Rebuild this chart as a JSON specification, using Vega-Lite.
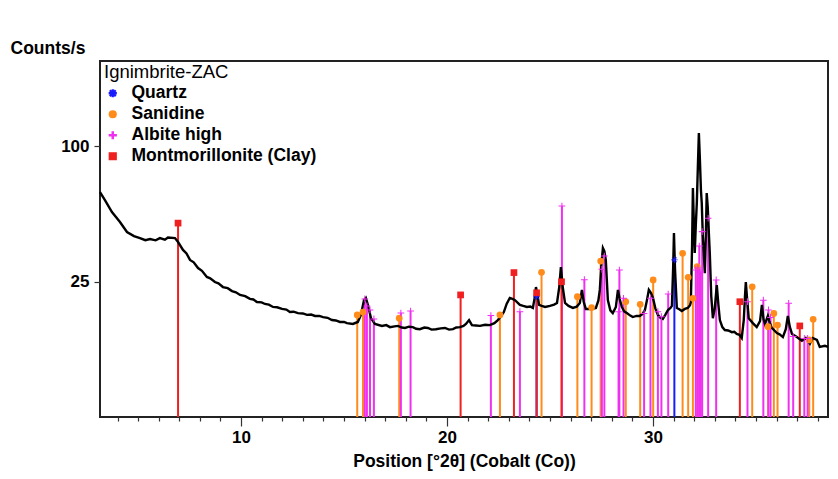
{
  "$schema": "https://vega.github.io/schema/vega-lite/v6.json",
  "width": 728,
  "height": 356,
  "autosize": "none",
  "padding": {"left": 100, "top": 61, "right": 10, "bottom": 62},
  "background": "white",
  "config": {
    "view": {"stroke": "#222222", "strokeWidth": 2},
    "font": "Liberation Sans"
  },
  "datasets": {
    "pattern": [
      {"pos": 3.15, "counts": 68.9}, {"pos": 3.39, "counts": 64.1}, {"pos": 3.73, "counts": 57.2}, {"pos": 4.12, "counts": 51.8},
      {"pos": 4.46, "counts": 46.6}, {"pos": 4.8, "counts": 44.6}, {"pos": 5.09, "counts": 43.6}, {"pos": 5.35, "counts": 42.6},
      {"pos": 5.58, "counts": 43.1}, {"pos": 5.85, "counts": 42.5}, {"pos": 6.06, "counts": 43.6}, {"pos": 6.3, "counts": 42.8},
      {"pos": 6.45, "counts": 43.9}, {"pos": 6.79, "counts": 43.6}, {"pos": 6.94, "counts": 41.7}, {"pos": 7.18, "counts": 38.0},
      {"pos": 7.35, "counts": 36.4}, {"pos": 7.52, "counts": 33.6}, {"pos": 7.7, "counts": 32.6}, {"pos": 7.91, "counts": 30.2},
      {"pos": 8.1, "counts": 29.1}, {"pos": 8.34, "counts": 26.7}, {"pos": 8.5, "counts": 26.2}, {"pos": 8.73, "counts": 24.8},
      {"pos": 8.9, "counts": 24.3}, {"pos": 9.12, "counts": 23.0}, {"pos": 9.35, "counts": 22.6}, {"pos": 9.56, "counts": 21.6},
      {"pos": 9.75, "counts": 21.2}, {"pos": 9.95, "counts": 20.3}, {"pos": 10.2, "counts": 19.9}, {"pos": 10.43, "counts": 19.0},
      {"pos": 10.6, "counts": 18.8}, {"pos": 10.77, "counts": 18.0}, {"pos": 11.0, "counts": 17.9}, {"pos": 11.16, "counts": 17.4},
      {"pos": 11.35, "counts": 17.2}, {"pos": 11.55, "counts": 16.5}, {"pos": 11.75, "counts": 16.4}, {"pos": 11.99, "counts": 15.9},
      {"pos": 12.2, "counts": 15.7}, {"pos": 12.37, "counts": 15.0}, {"pos": 12.55, "counts": 15.1}, {"pos": 12.76, "counts": 14.7},
      {"pos": 13.0, "counts": 14.6}, {"pos": 13.2, "counts": 14.2}, {"pos": 13.4, "counts": 14.3}, {"pos": 13.59, "counts": 13.9},
      {"pos": 13.8, "counts": 13.9}, {"pos": 13.98, "counts": 13.6}, {"pos": 14.2, "counts": 13.4}, {"pos": 14.41, "counts": 12.8},
      {"pos": 14.6, "counts": 12.7}, {"pos": 14.8, "counts": 12.3}, {"pos": 15.0, "counts": 12.3}, {"pos": 15.14, "counts": 12.0},
      {"pos": 15.43, "counts": 11.8}, {"pos": 15.67, "counts": 12.3}, {"pos": 15.82, "counts": 14.2}, {"pos": 15.97, "counts": 18.6},
      {"pos": 16.06, "counts": 19.3}, {"pos": 16.16, "counts": 17.1}, {"pos": 16.31, "counts": 13.3}, {"pos": 16.5, "counts": 11.8},
      {"pos": 16.84, "counts": 11.3}, {"pos": 17.05, "counts": 11.5}, {"pos": 17.23, "counts": 11.0}, {"pos": 17.45, "counts": 11.2},
      {"pos": 17.62, "counts": 11.3}, {"pos": 17.8, "counts": 10.9}, {"pos": 17.96, "counts": 10.8}, {"pos": 18.15, "counts": 11.1},
      {"pos": 18.34, "counts": 11.0}, {"pos": 18.5, "counts": 10.6}, {"pos": 18.68, "counts": 10.5}, {"pos": 18.9, "counts": 10.9},
      {"pos": 19.07, "counts": 10.8}, {"pos": 19.25, "counts": 10.4}, {"pos": 19.46, "counts": 10.5}, {"pos": 19.7, "counts": 10.7},
      {"pos": 19.9, "counts": 10.8}, {"pos": 20.1, "counts": 10.4}, {"pos": 20.29, "counts": 10.5}, {"pos": 20.45, "counts": 10.9},
      {"pos": 20.63, "counts": 11.0}, {"pos": 20.8, "counts": 11.3}, {"pos": 20.92, "counts": 11.8}, {"pos": 21.07, "counts": 12.8},
      {"pos": 21.21, "counts": 11.5}, {"pos": 21.4, "counts": 11.4}, {"pos": 21.6, "counts": 11.3}, {"pos": 21.85, "counts": 11.6},
      {"pos": 22.08, "counts": 11.5}, {"pos": 22.3, "counts": 12.0}, {"pos": 22.47, "counts": 12.8}, {"pos": 22.62, "counts": 13.8},
      {"pos": 22.76, "counts": 15.0}, {"pos": 22.9, "counts": 17.5}, {"pos": 23.05, "counts": 19.3}, {"pos": 23.18, "counts": 19.0},
      {"pos": 23.3, "counts": 18.6}, {"pos": 23.54, "counts": 17.1}, {"pos": 23.7, "counts": 16.8}, {"pos": 23.88, "counts": 16.5},
      {"pos": 24.05, "counts": 16.6}, {"pos": 24.17, "counts": 16.2}, {"pos": 24.26, "counts": 19.5}, {"pos": 24.32, "counts": 23.0},
      {"pos": 24.4, "counts": 20.0}, {"pos": 24.47, "counts": 17.1}, {"pos": 24.6, "counts": 16.8}, {"pos": 24.76, "counts": 16.5},
      {"pos": 25.0, "counts": 16.8}, {"pos": 25.2, "counts": 17.2}, {"pos": 25.34, "counts": 17.7}, {"pos": 25.45, "counts": 23.0},
      {"pos": 25.53, "counts": 30.6}, {"pos": 25.62, "counts": 23.0}, {"pos": 25.73, "counts": 17.7}, {"pos": 25.9, "counts": 16.8},
      {"pos": 26.11, "counts": 16.2}, {"pos": 26.3, "counts": 16.6}, {"pos": 26.45, "counts": 17.7}, {"pos": 26.55, "counts": 22.0},
      {"pos": 26.64, "counts": 18.0}, {"pos": 26.74, "counts": 15.9}, {"pos": 27.0, "counts": 15.9}, {"pos": 27.23, "counts": 16.2},
      {"pos": 27.35, "counts": 18.5}, {"pos": 27.42, "counts": 22.0}, {"pos": 27.5, "counts": 32.0}, {"pos": 27.57, "counts": 38.9},
      {"pos": 27.64, "counts": 37.5}, {"pos": 27.71, "counts": 33.6}, {"pos": 27.81, "counts": 18.6}, {"pos": 27.93, "counts": 15.5},
      {"pos": 28.05, "counts": 14.7}, {"pos": 28.2, "counts": 16.5}, {"pos": 28.3, "counts": 22.0}, {"pos": 28.4, "counts": 18.5},
      {"pos": 28.49, "counts": 16.5}, {"pos": 28.6, "counts": 15.2}, {"pos": 28.73, "counts": 14.7}, {"pos": 28.9, "counts": 14.0},
      {"pos": 29.02, "counts": 13.6}, {"pos": 29.2, "counts": 13.9}, {"pos": 29.36, "counts": 13.9}, {"pos": 29.5, "counts": 14.5},
      {"pos": 29.61, "counts": 15.6}, {"pos": 29.72, "counts": 19.0}, {"pos": 29.8, "counts": 22.0}, {"pos": 29.9, "counts": 21.0},
      {"pos": 30.0, "counts": 19.3}, {"pos": 30.12, "counts": 16.0}, {"pos": 30.24, "counts": 14.2}, {"pos": 30.36, "counts": 13.4},
      {"pos": 30.48, "counts": 13.1}, {"pos": 30.6, "counts": 14.2}, {"pos": 30.73, "counts": 15.6}, {"pos": 30.85, "counts": 16.2},
      {"pos": 30.92, "counts": 16.8}, {"pos": 30.98, "counts": 30.0}, {"pos": 31.02, "counts": 46.1}, {"pos": 31.07, "counts": 30.0},
      {"pos": 31.16, "counts": 16.2}, {"pos": 31.28, "counts": 15.8}, {"pos": 31.4, "counts": 15.3}, {"pos": 31.55, "counts": 15.9},
      {"pos": 31.69, "counts": 16.2}, {"pos": 31.8, "counts": 17.0}, {"pos": 31.84, "counts": 18.0}, {"pos": 31.9, "counts": 40.0},
      {"pos": 31.94, "counts": 71.4}, {"pos": 31.99, "counts": 50.0}, {"pos": 32.03, "counts": 36.6}, {"pos": 32.08, "counts": 50.0},
      {"pos": 32.13, "counts": 62.4}, {"pos": 32.18, "counts": 85.0}, {"pos": 32.23, "counts": 109.8}, {"pos": 32.28, "counts": 90.0},
      {"pos": 32.33, "counts": 70.0}, {"pos": 32.37, "counts": 62.4}, {"pos": 32.42, "counts": 45.0}, {"pos": 32.46, "counts": 38.0},
      {"pos": 32.52, "counts": 28.2}, {"pos": 32.57, "counts": 45.0}, {"pos": 32.61, "counts": 68.3}, {"pos": 32.66, "counts": 60.0},
      {"pos": 32.72, "counts": 45.0}, {"pos": 32.76, "counts": 36.6}, {"pos": 32.83, "counts": 20.0}, {"pos": 32.91, "counts": 13.3},
      {"pos": 33.0, "counts": 16.0}, {"pos": 33.1, "counts": 23.7}, {"pos": 33.18, "counts": 17.0}, {"pos": 33.25, "counts": 12.8},
      {"pos": 33.37, "counts": 11.0}, {"pos": 33.49, "counts": 10.3}, {"pos": 33.65, "counts": 10.2}, {"pos": 33.83, "counts": 9.8},
      {"pos": 33.95, "counts": 9.9}, {"pos": 34.07, "counts": 9.4}, {"pos": 34.2, "counts": 9.2}, {"pos": 34.31, "counts": 8.5},
      {"pos": 34.41, "counts": 12.8}, {"pos": 34.47, "counts": 20.0}, {"pos": 34.51, "counts": 24.8}, {"pos": 34.56, "counts": 20.0},
      {"pos": 34.65, "counts": 13.3}, {"pos": 34.85, "counts": 12.0}, {"pos": 35.04, "counts": 11.0}, {"pos": 35.2, "counts": 12.5},
      {"pos": 35.29, "counts": 17.1}, {"pos": 35.37, "counts": 13.0}, {"pos": 35.44, "counts": 11.8}, {"pos": 35.58, "counts": 13.9},
      {"pos": 35.68, "counts": 12.0}, {"pos": 35.77, "counts": 10.8}, {"pos": 36.02, "counts": 9.6}, {"pos": 36.15, "counts": 9.3},
      {"pos": 36.31, "counts": 8.7}, {"pos": 36.45, "counts": 10.5}, {"pos": 36.55, "counts": 13.9}, {"pos": 36.65, "counts": 11.0},
      {"pos": 36.75, "counts": 9.4}, {"pos": 36.99, "counts": 8.7}, {"pos": 37.23, "counts": 7.9}, {"pos": 37.42, "counts": 8.5},
      {"pos": 37.62, "counts": 7.3}, {"pos": 37.76, "counts": 8.5}, {"pos": 37.96, "counts": 8.1}, {"pos": 38.1, "counts": 6.7},
      {"pos": 38.35, "counts": 6.9}, {"pos": 38.5, "counts": 6.7}
    ],
    "sticks": [
      {"phase": "Quartz", "pos": 24.35, "counts": 19.7},
      {"phase": "Quartz", "pos": 31.04, "counts": 33.6},
      {"phase": "Sanidine", "pos": 15.64, "counts": 14.2},
      {"phase": "Sanidine", "pos": 15.92, "counts": 15.0},
      {"phase": "Sanidine", "pos": 17.68, "counts": 13.3},
      {"phase": "Sanidine", "pos": 22.57, "counts": 14.2},
      {"phase": "Sanidine", "pos": 24.59, "counts": 28.5},
      {"phase": "Sanidine", "pos": 26.33, "counts": 19.7},
      {"phase": "Sanidine", "pos": 27.02, "counts": 16.3},
      {"phase": "Sanidine", "pos": 27.46, "counts": 33.1},
      {"phase": "Sanidine", "pos": 28.68, "counts": 18.1},
      {"phase": "Sanidine", "pos": 29.38, "counts": 17.3},
      {"phase": "Sanidine", "pos": 30.01, "counts": 25.6},
      {"phase": "Sanidine", "pos": 31.44, "counts": 36.5},
      {"phase": "Sanidine", "pos": 31.71, "counts": 26.6},
      {"phase": "Sanidine", "pos": 31.94, "counts": 19.2},
      {"phase": "Sanidine", "pos": 32.15, "counts": 30.8},
      {"phase": "Sanidine", "pos": 34.82, "counts": 23.1},
      {"phase": "Sanidine", "pos": 35.59, "counts": 11.1},
      {"phase": "Sanidine", "pos": 35.87, "counts": 14.6},
      {"phase": "Sanidine", "pos": 36.05, "counts": 11.5},
      {"phase": "Sanidine", "pos": 37.59, "counts": 8.1},
      {"phase": "Sanidine", "pos": 37.78, "counts": 13.0},
      {"phase": "Albite high", "pos": 16.01, "counts": 19.0},
      {"phase": "Albite high", "pos": 16.11, "counts": 16.8},
      {"phase": "Albite high", "pos": 16.26, "counts": 15.6},
      {"phase": "Albite high", "pos": 16.45, "counts": 13.1},
      {"phase": "Albite high", "pos": 17.76, "counts": 14.7},
      {"phase": "Albite high", "pos": 18.23, "counts": 15.3},
      {"phase": "Albite high", "pos": 22.13, "counts": 14.0},
      {"phase": "Albite high", "pos": 23.54, "counts": 15.1},
      {"phase": "Albite high", "pos": 25.58, "counts": 60.6},
      {"phase": "Albite high", "pos": 26.67, "counts": 25.7},
      {"phase": "Albite high", "pos": 27.52, "counts": 29.7},
      {"phase": "Albite high", "pos": 27.64, "counts": 35.3},
      {"phase": "Albite high", "pos": 28.33, "counts": 15.1},
      {"phase": "Albite high", "pos": 28.37, "counts": 29.4},
      {"phase": "Albite high", "pos": 28.57, "counts": 19.2},
      {"phase": "Albite high", "pos": 29.57, "counts": 14.6},
      {"phase": "Albite high", "pos": 29.88, "counts": 19.2},
      {"phase": "Albite high", "pos": 30.24, "counts": 15.1},
      {"phase": "Albite high", "pos": 30.41, "counts": 13.7},
      {"phase": "Albite high", "pos": 30.74, "counts": 20.6},
      {"phase": "Albite high", "pos": 32.08, "counts": 29.4},
      {"phase": "Albite high", "pos": 32.18, "counts": 30.2},
      {"phase": "Albite high", "pos": 32.25, "counts": 39.8},
      {"phase": "Albite high", "pos": 32.32, "counts": 28.6},
      {"phase": "Albite high", "pos": 32.39, "counts": 46.8},
      {"phase": "Albite high", "pos": 32.68, "counts": 53.8},
      {"phase": "Albite high", "pos": 33.07, "counts": 25.6},
      {"phase": "Albite high", "pos": 34.59, "counts": 18.1},
      {"phase": "Albite high", "pos": 35.36, "counts": 18.6},
      {"phase": "Albite high", "pos": 35.61, "counts": 15.6},
      {"phase": "Albite high", "pos": 35.71, "counts": 13.5},
      {"phase": "Albite high", "pos": 36.59, "counts": 17.6},
      {"phase": "Albite high", "pos": 36.81, "counts": 8.8},
      {"phase": "Albite high", "pos": 37.35, "counts": 8.4},
      {"phase": "Albite high", "pos": 37.51, "counts": 8.4},
      {"phase": "Montmorillonite (Clay)", "pos": 6.94, "counts": 51.2},
      {"phase": "Montmorillonite (Clay)", "pos": 20.66, "counts": 20.3},
      {"phase": "Montmorillonite (Clay)", "pos": 23.25, "counts": 28.4},
      {"phase": "Montmorillonite (Clay)", "pos": 24.35, "counts": 21.0},
      {"phase": "Montmorillonite (Clay)", "pos": 25.56, "counts": 24.9},
      {"phase": "Montmorillonite (Clay)", "pos": 34.22, "counts": 18.1},
      {"phase": "Montmorillonite (Clay)", "pos": 37.13, "counts": 11.3}
    ]
  },
  "layer": [
    {
      "data": {"name": "sticks"},
      "mark": {"type": "rule", "strokeWidth": 2},
      "encoding": {
        "x": {
          "field": "pos", "type": "quantitative",
          "scale": {"domain": [3.15, 38.5], "nice": false, "zero": false},
          "axis": {
            "orient": "bottom",
            "values": [4, 5, 6, 7, 8, 9, 11, 12, 13, 14, 15, 16, 17, 18, 19, 21, 22, 23, 24, 25, 26, 27, 28, 29, 31, 32, 33, 34, 35, 36, 37, 38],
            "tickSize": 4, "tickColor": "#333333", "tickWidth": 1.2,
            "labels": false, "title": null, "domain": false, "grid": false
          }
        },
        "y": {
          "field": "counts", "type": "quantitative",
          "scale": {"type": "sqrt", "domain": [0, 172.6], "nice": false, "zero": true},
          "axis": {
            "values": [25, 100],
            "tickSize": 6, "tickColor": "#333333", "tickWidth": 1.2,
            "labelFontSize": 17, "labelFontWeight": "bold", "labelColor": "black", "labelPadding": 5,
            "title": "Counts/s", "titleAngle": 0, "titleAlign": "left", "titleBaseline": "middle",
            "titleX": -90, "titleY": -13, "titleFontSize": 17.5, "titleFontWeight": "bold", "titleColor": "black",
            "domain": false, "grid": false
          }
        },
        "y2": {"datum": 0},
        "color": {
          "field": "phase", "type": "nominal",
          "scale": {
            "domain": ["Quartz", "Sanidine", "Albite high", "Montmorillonite (Clay)"],
            "range": ["#1a1aff", "#ff8c1a", "#f030f0", "#f02020"]
          }
        }
      }
    },
    {
      "data": {"name": "pattern"},
      "mark": {"type": "line", "color": "black", "strokeWidth": 2.4},
      "encoding": {
        "x": {
          "field": "pos", "type": "quantitative",
          "axis": {
            "orient": "bottom",
            "values": [10, 20, 30],
            "tickSize": 9, "tickColor": "#333333", "tickWidth": 1.2,
            "labelFontSize": 17, "labelFontWeight": "bold", "labelColor": "black", "labelPadding": 3,
            "title": "Position [°2θ] (Cobalt (Co))", "titleFontSize": 17.5, "titleFontWeight": "bold", "titleColor": "black", "titlePadding": 7,
            "domain": false, "grid": false
          }
        },
        "y": {"field": "counts", "type": "quantitative"}
      }
    },
    {
      "data": {"name": "sticks"},
      "mark": {"type": "point", "filled": true, "size": 45, "opacity": 1},
      "encoding": {
        "x": {"field": "pos", "type": "quantitative", "axis": null},
        "y": {"field": "counts", "type": "quantitative"},
        "color": {
          "field": "phase", "type": "nominal",
          "legend": {
            "orient": "none", "legendX": 4, "legendY": 2,
            "title": "Ignimbrite-ZAC", "titleFontSize": 18.5, "titleFontWeight": "normal", "titleColor": "black", "titlePadding": 3,
            "labelFontSize": 17.5, "labelFontWeight": "bold", "labelColor": "black", "labelOffset": 10, "labelLimit": 400,
            "rowPadding": 2, "symbolSize": 45, "padding": 0
          }
        },
        "shape": {
          "field": "phase", "type": "nominal",
          "scale": {
            "domain": ["Quartz", "Sanidine", "Albite high", "Montmorillonite (Clay)"],
            "range": [
              "M-1,-0.12L1,-0.12L1,0.12L-1,0.12Z M-0.12,-1L0.12,-1L0.12,1L-0.12,1Z M-0.8,-0.64L-0.64,-0.8L0.8,0.64L0.64,0.8Z M0.64,-0.8L0.8,-0.64L-0.64,0.8L-0.8,0.64Z",
              "circle",
              "M-1,-0.15L1,-0.15L1,0.15L-1,0.15Z M-0.15,-1L0.15,-1L0.15,1L-0.15,1Z",
              "square"
            ]
          },
          "legend": {
            "orient": "none", "legendX": 4, "legendY": 2,
            "title": "Ignimbrite-ZAC", "titleFontSize": 18.5, "titleFontWeight": "normal", "titleColor": "black", "titlePadding": 3,
            "labelFontSize": 17.5, "labelFontWeight": "bold", "labelColor": "black", "labelOffset": 10, "labelLimit": 400,
            "rowPadding": 2, "symbolSize": 45, "padding": 0
          }
        }
      }
    }
  ],
  "resolve": {"axis": {"x": "independent"}}
}
